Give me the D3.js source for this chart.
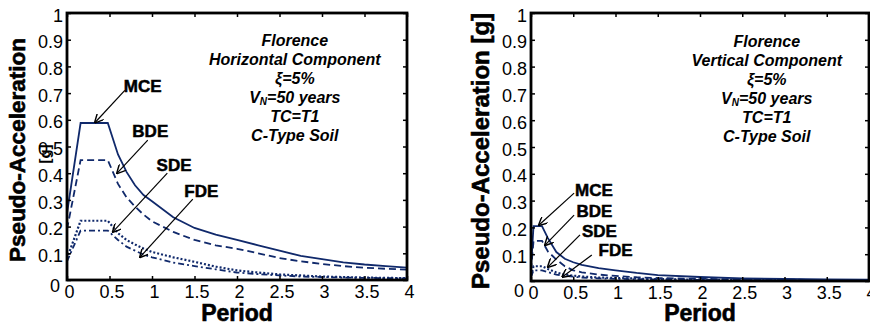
<!DOCTYPE html>
<html>
<head>
<meta charset="utf-8">
<script src="https://cdn.jsdelivr.net/npm/d3@7"></script>
<style>
  body { margin: 0; background: #fff; }
  svg { font-family: "Liberation Sans", Arial, sans-serif; }
  .tick text { font-size: 18px; fill: #000; }
</style>
</head>
<body>
<div id="chart"></div>
<script>
// periods [s] and spectral values [g]
var periodsH = [0, 0.16, 0.48, 0.6, 0.7, 0.8, 0.9, 1, 1.25, 1.5, 1.75, 2, 2.25, 2.5, 2.75, 3, 3.25, 3.5, 3.75, 4];
var mceH = [0.25, 0.588, 0.588, 0.47, 0.405, 0.355, 0.318, 0.295, 0.235, 0.195, 0.17, 0.15, 0.13, 0.11, 0.09, 0.078, 0.066, 0.058, 0.052, 0.046];
var bdeH = [0.19, 0.449, 0.449, 0.36, 0.31, 0.275, 0.245, 0.22, 0.18, 0.15, 0.13, 0.117, 0.1, 0.082, 0.07, 0.06, 0.052, 0.046, 0.042, 0.039];
var sdeH = [0.08, 0.222, 0.222, 0.175, 0.15, 0.133, 0.118, 0.105, 0.085, 0.068, 0.05, 0.036, 0.028, 0.021, 0.017, 0.013, 0.011, 0.009, 0.008, 0.007];
var fdeH = [0.07, 0.185, 0.185, 0.15, 0.125, 0.11, 0.095, 0.085, 0.065, 0.052, 0.04, 0.028, 0.022, 0.017, 0.013, 0.011, 0.009, 0.008, 0.007, 0.006];

var periodsV = [0, 0.03, 0.13, 0.2, 0.3, 0.4, 0.5, 0.6, 0.8, 1, 1.25, 1.5, 2, 2.5, 3, 3.5, 4];
var mceV = [0.05, 0.205, 0.205, 0.16, 0.108, 0.083, 0.07, 0.06, 0.048, 0.04, 0.03, 0.022, 0.015, 0.01, 0.008, 0.006, 0.005];
var bdeV = [0.04, 0.15, 0.15, 0.11, 0.08, 0.055, 0.04, 0.032, 0.024, 0.019, 0.014, 0.011, 0.008, 0.006, 0.005, 0.004, 0.004];
var sdeV = [0.02, 0.055, 0.055, 0.045, 0.032, 0.024, 0.02, 0.017, 0.013, 0.011, 0.009, 0.007, 0.005, 0.004, 0.003, 0.003, 0.002];
var fdeV = [0.015, 0.04, 0.04, 0.033, 0.024, 0.019, 0.016, 0.013, 0.01, 0.008, 0.007, 0.006, 0.004, 0.003, 0.003, 0.002, 0.002];

var xTicks = [0, 0.5, 1, 1.5, 2, 2.5, 3, 3.5, 4];
var yTicks = [0, 0.1, 0.2, 0.3, 0.4, 0.5, 0.6, 0.7, 0.8, 0.9, 1];
var levels = ["MCE", "BDE", "SDE", "FDE"];

var lineColor = "#10296b";
var dashes = ["none", "7,4", "2,2", "6,3,2,3"];

var svg = d3.select("#chart").append("svg")
    .attr("width", 870)
    .attr("height", 325);

svg.append("defs").append("marker")
    .attr("id", "head")
    .attr("viewBox", "0 0 10 10")
    .attr("refX", 9).attr("refY", 5)
    .attr("markerWidth", 9).attr("markerHeight", 9)
    .attr("markerUnits", "userSpaceOnUse")
    .attr("orient", "auto")
  .append("path")
    .attr("d", "M0,0 L10,5 L0,10")
    .style("fill", "none")
    .style("stroke", "#000")
    .style("stroke-width", 1.6);

function drawPanel(p) {
    var x = d3.scaleLinear().domain([0, 4]).range([p.left, p.right]);
    var y = d3.scaleLinear().domain([0, 1]).range([p.bottom, p.top]);

    // y label, drawn first so the tick labels sit on top of it
    svg.append("text")
        .attr("transform", "translate(" + p.ylabX + "," + p.ylabY + ") rotate(-90)")
        .style("text-anchor", "middle")
        .style("font-size", p.ylabSize)
        .style("font-weight", "bold")
        .style("stroke", "#000")
        .style("stroke-width", 0.6)
        .text(p.ylabel);
    if (p.extra) {
        svg.append("text")
            .attr("transform", "translate(" + p.extra.x + "," + p.extra.y + ") rotate(-90)")
            .style("text-anchor", "middle")
            .style("font-size", "15px")
            .style("font-weight", "bold")
            .text("[g]");
    }

    var line = d3.line()
        .x(function(d) { return x(d[0]); })
        .y(function(d) { return y(d[1]); });

    p.series.forEach(function(vals, i) {
        svg.append("path")
            .attr("d", line(p.periods.map(function(t, j) { return [t, vals[j]]; })))
            .style("fill", "none")
            .style("stroke", lineColor)
            .style("stroke-width", i == 2 ? 2.2 : 1.8)
            .style("stroke-dasharray", dashes[i]);
    });

    // axes with inward ticks on all four sides
    var bottom = svg.append("g")
        .attr("transform", "translate(0," + p.bottom + ")")
        .call(d3.axisBottom(x).tickValues(xTicks).tickSize(-4).tickPadding(5).tickFormat(d3.format("")));
    var left = svg.append("g")
        .attr("transform", "translate(" + p.left + ",0)")
        .call(d3.axisLeft(y).tickValues(yTicks).tickSize(-4).tickPadding(4).tickFormat(d3.format("")));
    svg.append("g")
        .attr("transform", "translate(0," + p.top + ")")
        .call(d3.axisTop(x).tickValues(xTicks).tickSize(-4).tickFormat(""));
    svg.append("g")
        .attr("transform", "translate(" + p.right + ",0)")
        .call(d3.axisRight(y).tickValues(yTicks).tickSize(-4).tickFormat(""));

    svg.selectAll(".domain").remove();
    bottom.selectAll("text").attr("dx", 2).attr("dy", "0.72em");
    left.selectAll("text").attr("dy", "0.45em");
    left.selectAll("text").filter(function(d) { return d === 0; })
        .attr("dy", p.zeroDy).attr("dx", -3);
    svg.selectAll(".tick line").style("stroke", "#000").style("stroke-width", 1.5);

    svg.append("rect")
        .attr("x", p.left).attr("y", p.top)
        .attr("width", p.right - p.left).attr("height", p.bottom - p.top)
        .style("fill", "none")
        .style("stroke", "#000")
        .style("stroke-width", 2.8);

    svg.append("text")
        .attr("x", (p.left + p.right) / 2)
        .attr("y", 321)
        .style("text-anchor", "middle")
        .style("font-size", "23px")
        .style("font-weight", "bold")
        .style("stroke", "#000")
        .style("stroke-width", 0.6)
        .text("Period");

    // info block
    var info = svg.append("text")
        .attr("x", x(p.infoT))
        .attr("y", p.infoY)
        .style("text-anchor", "middle")
        .style("font-size", "16px")
        .style("font-weight", "bold")
        .style("font-style", "italic");
    var lines = ["Florence", p.component, "\u03be=5%", "VN", "TC=T1", "C-Type Soil"];
    lines.forEach(function(s, i) {
        var t = info.append("tspan").attr("x", x(p.infoT)).attr("y", p.infoY + i * 19);
        if (s === "VN") {
            t.append("tspan").text("V");
            t.append("tspan").style("font-size", "10px").attr("dy", 2).text("N");
            t.append("tspan").attr("dy", -2).text("=50 years");
        } else {
            t.text(s);
        }
    });

    // level labels with arrows
    p.notes.forEach(function(n, i) {
        svg.append("line")
            .attr("x1", x(n.tail[0])).attr("y1", y(n.tail[1]))
            .attr("x2", x(n.head[0])).attr("y2", y(n.head[1]))
            .style("stroke", "#000")
            .style("stroke-width", 1.2)
            .attr("marker-end", "url(#head)");
        svg.append("text")
            .attr("x", x(n.label[0])).attr("y", y(n.label[1]))
            .attr("dy", "0.36em")
            .style("text-anchor", "middle")
            .style("font-size", "17px")
            .style("font-weight", "bold")
            .style("stroke", "#000")
            .style("stroke-width", 0.5)
            .text(levels[i]);
    });
}

drawPanel({
    left: 67, right: 407, top: 13, bottom: 280,
    periods: periodsH, series: [mceH, bdeH, sdeH, fdeH],
    ylabel: "Pseudo-Acceleration", ylabX: 25, ylabY: 150, ylabSize: "22.5px",
    extra: {x: 50, y: 154},
    zeroDy: "0.65em",
    component: "Horizontal Component", infoT: 2.68, infoY: 46,
    notes: [
        {label: [0.89, 0.727], tail: [0.68, 0.71], head: [0.33, 0.59]},
        {label: [0.98, 0.558], tail: [0.95, 0.524], head: [0.59, 0.40]},
        {label: [1.26, 0.43], tail: [1.18, 0.40], head: [0.54, 0.18]},
        {label: [1.58, 0.333], tail: [1.48, 0.303], head: [0.86, 0.086]}
    ]
});

drawPanel({
    left: 531, right: 869, top: 13, bottom: 281,
    periods: periodsV, series: [mceV, bdeV, sdeV, fdeV],
    ylabel: "Pseudo-Acceleration [g]", ylabX: 489, ylabY: 151, ylabSize: "24px",
    zeroDy: "0.85em",
    component: "Vertical Component", infoT: 2.79, infoY: 47,
    notes: [
        {label: [0.745, 0.34], tail: [0.51, 0.328], head: [0.095, 0.209]},
        {label: [0.75, 0.261], tail: [0.51, 0.246], head: [0.166, 0.134]},
        {label: [0.81, 0.187], tail: [0.58, 0.172], head: [0.2, 0.052]},
        {label: [1.0, 0.116], tail: [0.72, 0.097], head: [0.37, 0.015]}
    ]
});
</script>
</body>
</html>
